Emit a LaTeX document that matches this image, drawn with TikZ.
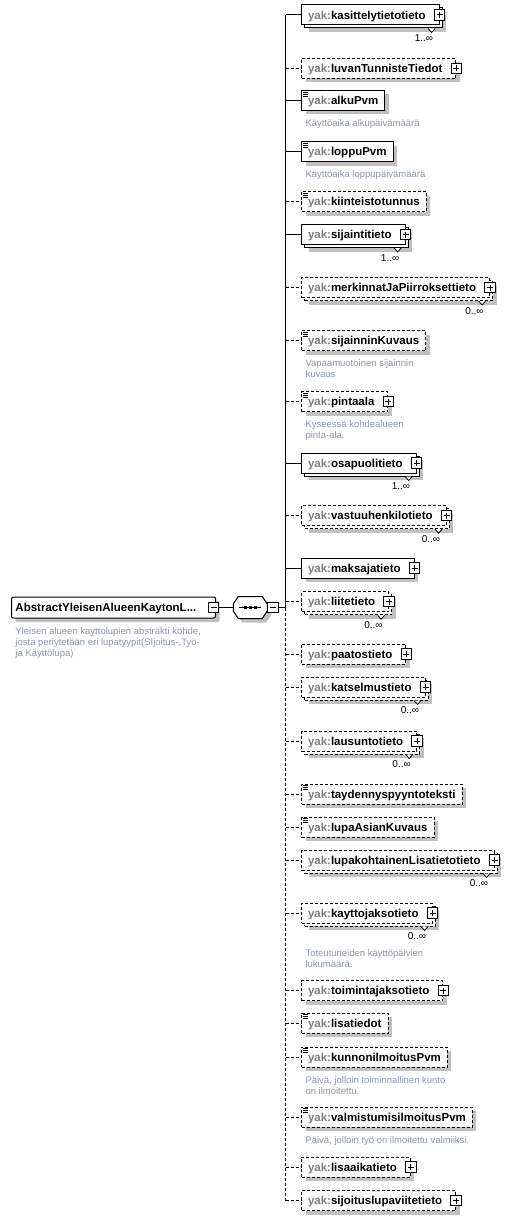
\documentclass[tikz,border=0pt]{standalone}
\usepackage{fontspec}
\setmainfont{Liberation Sans}
\usetikzlibrary{positioning,calc}
\definecolor{prefixgray}{RGB}{128,128,128}
\definecolor{descgray}{RGB}{140,150,168}
\definecolor{shadowgray}{RGB}{192,192,192}
\newcommand{\yak}{\textcolor{prefixgray}{yak:}}
\tikzset{
    shade/.style={
        preaction={draw=none, fill=shadowgray, transform canvas={shift={(#1,-#1)}}},
    },
    box/.style={
        rectangle,
        draw=black,
        fill=white,
        anchor=west,
        minimum height=20pt,
        inner xsep=6.5pt,
        inner ysep=0pt,
        text height=8.2pt,
        text depth=0pt,
        font=\fontsize{11.5}{13}\selectfont\bfseries,
    },
    elem/.style={
        box,
        shade=4pt,
    },
    elems/.style={
        box,
        shade=7pt,
        preaction={draw=black, fill=white, transform canvas={shift={(3pt,-3pt)}}},
    },
    opt/.style={
        dash pattern=on 3pt off 2pt,
    },
    plus/.style={
        execute at end node={\hspace*{7pt}},
    },
    plusbox/.style={
        rectangle,
        draw=black,
        fill=white,
        minimum size=10.5pt,
        inner sep=0pt,
        path picture={
            \draw ([xshift=-3pt]path picture bounding box.center) -- ([xshift=3pt]path picture bounding box.center);
            \draw ([yshift=-3pt]path picture bounding box.center) -- ([yshift=3pt]path picture bounding box.center);
        },
    },
    minusbox/.style={
        rectangle,
        draw=black,
        fill=white,
        minimum size=10.5pt,
        inner sep=0pt,
        path picture={
            \draw ([xshift=-3pt]path picture bounding box.center) -- ([xshift=3pt]path picture bounding box.center);
        },
    },
    root/.style={
        rectangle,
        rounded corners=2pt,
        draw=black,
        fill=white,
        anchor=west,
        minimum height=21pt,
        inner xsep=4pt,
        inner ysep=0pt,
        text width=196pt,
        text height=8.2pt,
        text depth=0pt,
        align=left,
        font=\fontsize{11.5}{13}\selectfont\bfseries,
        shade=4pt,
    },
    seqbox/.style={
        rectangle,
        minimum width=33pt,
        minimum height=21pt,
        inner sep=0pt,
    },
    occ/.style={
        font=\fontsize{10}{12}\selectfont,
        inner sep=0pt,
        anchor=east,
    },
    desc/.style={
        font=\fontsize{9.5}{11}\selectfont,
        text=descgray,
        align=left,
        inner sep=0pt,
        anchor=base west,
    },
}

\begin{document}
\begin{tikzpicture}[x=1pt, y=-1pt, line width=1pt]
    \useasboundingbox (0,0) rectangle (511,1220);

    \node [root] (Root) at (11,607.5) {AbstractYleisenAlueenKaytonL...};
    \node [minusbox] (Root-m) at ($(Root.east)+(-2.5,0)$) {};
    % base of a multi-line node is its last line
    \node [desc] (Root-d) at (15,656) {Yleisen alueen kayttolupien abstrakti kohde,\\josta periytetään eri lupatyypit(SIjoitus-,Työ-\\ja Käyttölupa)};

    % sequence compositor
    \node [seqbox, right=14pt of Root-m] (Seq) {};
    \draw [fill=white, shade=4pt] ($(Seq.north west)+(5,0)$) -- ($(Seq.north east)+(-5,0)$)
        -- ($(Seq.east)+(0,-3.5)$) -- ($(Seq.east)+(0,3.5)$) -- ($(Seq.south east)+(-5,0)$)
        -- ($(Seq.south west)+(5,0)$) -- ($(Seq.west)+(0,3.5)$) -- ($(Seq.west)+(0,-3.5)$) -- cycle;
    \draw ($(Seq.center)+(-11,0)$) -- ($(Seq.center)+(11,0)$);
    \foreach \d in {-5,0,5}
        \fill ($(Seq.center)+(\d,0)$) +(-1.6,-1.6) rectangle +(1.6,1.6);
    \node [minusbox, anchor=west] (Seq-m) at (Seq.east) {};
    \coordinate (Trunk) at (285.5,607.5);

    \node [elems, plus] (Kasi) at (301,15) {\yak kasittelytietotieto};
    \node [elem, opt, plus] (Luva) at (301,68.5) {\yak luvanTunnisteTiedot};
    \node [elem] (Alku) at (301,100.5) {\yak alkuPvm};
    \node [elem] (Lopp) at (301,151.7) {\yak loppuPvm};
    \node [elem, opt] (Kiin) at (301,201.5) {\yak kiinteistotunnus};
    \node [elems, plus] (Sija) at (301,234.5) {\yak sijaintitieto};
    \node [elems, opt, plus] (Merk) at (301,287.5) {\yak merkinnatJaPiirroksettieto};
    \node [elem, opt] (Sijk) at (301,340.5) {\yak sijainninKuvaus};
    \node [elem, opt, plus] (Pint) at (301,401.7) {\yak pintaala};
    \node [elems, plus] (Osap) at (301,463) {\yak osapuolitieto};
    \node [elems, opt, plus] (Vast) at (301,515.7) {\yak vastuuhenkilotieto};
    \node [elem, plus] (Maks) at (301,568) {\yak maksajatieto};
    \node [elems, opt, plus] (Liit) at (301,601.7) {\yak liitetieto};
    \node [elem, opt, plus] (Paat) at (301,654) {\yak paatostieto};
    \node [elems, opt, plus] (Kats) at (301,687) {\yak katselmustieto};
    \node [elems, opt, plus] (Laus) at (301,741) {\yak lausuntotieto};
    \node [elem, opt] (Tayd) at (301,794) {\yak taydennyspyyntoteksti};
    \node [elem, opt] (Lupa) at (301,827) {\yak lupaAsianKuvaus};
    \node [elems, opt, plus] (Lupk) at (301,860) {\yak lupakohtainenLisatietotieto};
    \node [elems, opt, plus] (Kayt) at (301,913) {\yak kayttojaksotieto};
    \node [elem, opt, plus] (Toim) at (301,990.5) {\yak toimintajaksotieto};
    \node [elem, opt] (Lisa) at (301,1023) {\yak lisatiedot};
    \node [elem, opt] (Kunn) at (301,1057) {\yak kunnonilmoitusPvm};
    \node [elem, opt] (Valm) at (301,1117) {\yak valmistumisilmoitusPvm};
    \node [elem, opt, plus] (Lisk) at (301,1167) {\yak lisaaikatieto};
    \node [elem, opt, plus] (Sijo) at (301,1200.7) {\yak sijoituslupaviitetieto};

    % descriptions
    \node [desc] (Alku-d) at ($(Alku.south west)+(4,15.5)$) {Käyttöaika alkupäivämäärä};
    \node [desc] (Lopp-d) at ($(Lopp.south west)+(4,15.5)$) {Käyttöaika loppupäivämäärä};
    \node [desc] (Sijk-d) at ($(Sijk.south west)+(4,26.5)$) {Vapaamuotoinen sijainnin\\kuvaus};
    \node [desc] (Pint-d) at ($(Pint.south west)+(4,26.5)$) {Kyseessä kohdealueen\\pinta-ala.};
    \node [desc] (Kayt-d) at ($(Kayt.south west)+(4,44)$) {Toteutuneiden käyttöpäivien\\lukumäärä.};
    \node [desc] (Kunn-d) at ($(Kunn.south west)+(4,26.5)$) {Päivä, jolloin toiminnallinen kunto\\on ilmoitettu.};
    \node [desc] (Valm-d) at ($(Valm.south west)+(4,15.5)$) {Päivä, jolloin työ on ilmoitettu valmiiksi.};

    % expand boxes, simple type marks, occurrences
    \foreach \n in {Kasi,Luva,Sija,Merk,Pint,Osap,Vast,Maks,Liit,Paat,Kats,Laus,Lupk,Kayt,Toim,Lisk,Sijo}
        \node [plusbox] (\n-x) at (\n.east) {};
    \foreach \n in {Alku,Lopp,Kiin,Sijk,Pint,Tayd,Lupa,Lisa,Kunn,Valm}
        \foreach \k in {2,4,6}
            \draw [line width=0.8pt] ($(\n.north west)+(1.5,\k)$) -- ++(5.5,0);
    \foreach \n/\o in {Kasi/1,Sija/1,Merk/0,Osap/1,Vast/0,Liit/0,Kats/0,Laus/0,Lupk/0,Kayt/0}{
        \draw [line width=0.8pt, fill=white] ($(\n.south east)+(-11.5,3)$) -- ++(3.5,4) -- ++(3.5,-4);
        \node [occ] (\n-o) at ($(\n.south east)+(-6,13)$) {\o..∞};
    }

    % connectors
    \draw (Root-m) -- (Seq);
    \draw (Seq-m) -- (Trunk);
    \draw (Trunk |- Kasi.west) -- (Trunk);
    \draw [opt] (Trunk) -- (Trunk |- Sijo.west);
    \foreach \n in {Kasi,Alku,Lopp,Sija,Osap,Maks}
        \draw (Trunk |- \n.west) -- (\n.west);
    \foreach \n in {Luva,Kiin,Merk,Sijk,Pint,Vast,Liit,Paat,Kats,Laus,Tayd,Lupa,Lupk,Kayt,Toim,Lisa,Kunn,Valm,Lisk,Sijo}
        \draw [opt] (Trunk |- \n.west) -- (\n.west);
\end{tikzpicture}
\end{document}
